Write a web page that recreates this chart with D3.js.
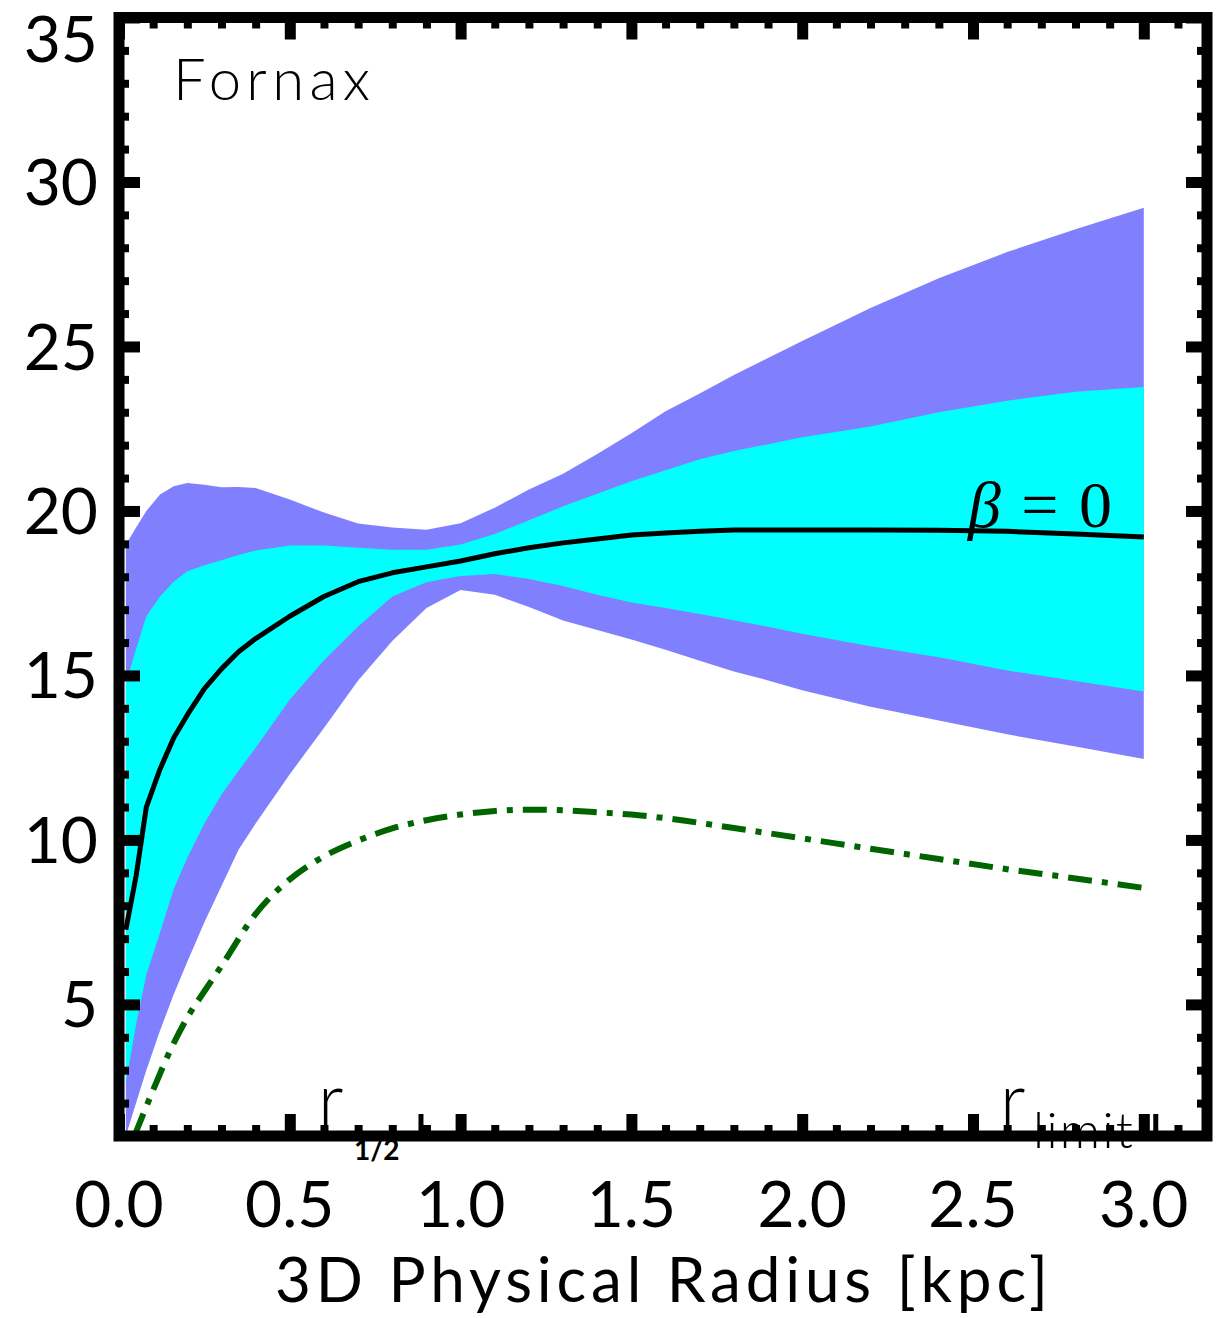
<!DOCTYPE html>
<html>
<head>
<meta charset="utf-8">
<script src="https://cdn.jsdelivr.net/npm/d3@7/dist/d3.min.js"></script>
<style>
  body { margin: 0; background: #fff; }
  text { font-family: Lato, "DejaVu Sans", sans-serif; }
</style>
</head>
<body>
<svg width="1229" height="1318"></svg>
<script>
// radius grid (kpc) shared by the bands and the median
var radius = [0.02, 0.05, 0.08, 0.12, 0.16, 0.2, 0.25, 0.3, 0.35, 0.4,
              0.5, 0.6, 0.7, 0.8, 0.9, 1.0, 1.1, 1.2, 1.3, 1.4, 1.5, 1.6, 1.7, 1.8, 1.9, 2.0,
              2.2, 2.4, 2.6, 2.8, 3.0];
// outer (purple) band
var outerHigh = [18.97, 19.5, 20.0, 20.5, 20.75, 20.85, 20.8, 20.72, 20.73, 20.7,
                 20.35, 19.95, 19.62, 19.5, 19.43, 19.63, 20.1, 20.65, 21.13, 21.73, 22.36, 23.03, 23.57, 24.13, 24.65, 25.17,
                 26.17, 27.07, 27.87, 28.56, 29.22];
var outerLow  = [1.0, 2.0, 3.0, 4.2, 5.3, 6.3, 7.5, 8.6, 9.7, 10.5,
                 12.0, 13.4, 14.85, 16.05, 17.05, 17.6, 17.45, 17.08, 16.67, 16.38, 16.09, 15.78, 15.45, 15.12, 14.85, 14.55,
                 14.05, 13.63, 13.21, 12.84, 12.46];
// inner (cyan) band
var innerHigh = [14.77, 15.8, 16.8, 17.4, 17.85, 18.17, 18.35, 18.5, 18.66, 18.8,
                 18.95, 18.95, 18.88, 18.82, 18.82, 18.98, 19.3, 19.72, 20.14, 20.52, 20.9, 21.24, 21.57, 21.82, 22.03, 22.24,
                 22.57, 23.0, 23.35, 23.62, 23.77];
var innerLow  = [2.6, 4.4, 5.9, 7.18, 8.5, 9.46, 10.5, 11.38, 12.1, 12.8,
                 14.27, 15.46, 16.49, 17.4, 17.83, 18.02, 18.08, 17.93, 17.72, 17.45, 17.22, 17.05, 16.87, 16.68, 16.48, 16.27,
                 15.89, 15.55, 15.15, 14.83, 14.51];
// beta = 0 median
var median    = [7.27, 8.9, 11.0, 12.15, 13.1, 13.8, 14.6, 15.2, 15.72, 16.12,
                 16.8, 17.4, 17.85, 18.12, 18.3, 18.48, 18.7, 18.88, 19.03, 19.15, 19.27, 19.33, 19.38, 19.42, 19.42, 19.42,
                 19.42, 19.41, 19.38, 19.3, 19.21];
// dash-dot curve
var greenR = [0.045, 0.1, 0.15, 0.2, 0.25, 0.3, 0.4, 0.5, 0.6, 0.7, 0.8, 0.9, 1.0, 1.1, 1.2, 1.3, 1.4, 1.5, 1.6,
              1.8, 2.0, 2.2, 2.4, 2.6, 2.8, 3.0];
var greenV = [1.0, 2.4, 3.6, 4.6, 5.4, 6.17, 7.75, 8.8, 9.5, 9.98, 10.35, 10.6, 10.77, 10.88, 10.92, 10.9, 10.84, 10.77, 10.66,
              10.36, 10.05, 9.73, 9.42, 9.11, 8.83, 8.54];

var xTicks = [0, 0.5, 1.0, 1.5, 2.0, 2.5, 3.0];
var yTicks = [5, 10, 15, 20, 25, 30, 35];
var rHalf = 0.884, rLimit = 3.035;

(function() {
var svg = d3.select("svg");
var pL = 119, pR = 1207, pT = 17.5, pB = 1136;

var x = d3.scaleLinear().domain([0, 3.185]).range([pL, pR]);
var y = d3.scaleLinear().domain([1, 35]).range([pB, pT]);

svg.append("clipPath").attr("id", "plotclip")
  .append("rect").attr("x", pL).attr("y", pT)
  .attr("width", pR - pL).attr("height", pB - pT);

var plot = svg.append("g").attr("clip-path", "url(#plotclip)");

var rows = radius.map(function(r, i) {
  return {r: r, oh: outerHigh[i], ol: outerLow[i], ih: innerHigh[i], il: innerLow[i], m: median[i]};
});

// bands
plot.append("path").datum(rows)
  .attr("fill", "#8080ff")
  .attr("d", d3.area().x(function(d) { return x(d.r); })
    .y0(function(d) { return y(d.ol); }).y1(function(d) { return y(d.oh); }));

plot.append("path").datum(rows)
  .attr("fill", "#00ffff")
  .attr("d", d3.area().x(function(d) { return x(d.r); })
    .y0(function(d) { return y(d.il); }).y1(function(d) { return y(d.ih); }));

// green dash-dot
plot.append("path").datum(greenR.map(function(r, i) { return [r, greenV[i]]; }))
  .attr("fill", "none")
  .attr("stroke", "#006400")
  .attr("stroke-width", 6)
  .attr("stroke-dasharray", "24,10,6,10")
  .attr("d", d3.line().curve(d3.curveMonotoneX)
    .x(function(d) { return x(d[0]); }).y(function(d) { return y(d[1]); }));

// median line
plot.append("path").datum(rows)
  .attr("fill", "none")
  .attr("stroke", "#000")
  .attr("stroke-width", 5)
  .attr("stroke-linejoin", "round")
  .attr("d", d3.line().x(function(d) { return x(d.r); }).y(function(d) { return y(d.m); }));

// ticks on all four sides
var xMinor = d3.range(1, 32).map(function(i) { return i / 10; }).filter(function(v) { return Math.round(v * 10) % 5 != 0; });
var yMinor = d3.range(2, 35).filter(function(v) { return v % 5 != 0; });

function tickAxis(gen, scale, vals, len, w, tr) {
  var a = svg.append("g").attr("transform", tr)
    .call(gen(scale).tickValues(vals).tickSize(-len).tickFormat(""));
  a.select(".domain").remove();
  a.selectAll(".tick line").attr("stroke", "#000").attr("stroke-width", w);
}
tickAxis(d3.axisBottom, x, xMinor, 11, 8, "translate(0," + pB + ")");
tickAxis(d3.axisBottom, x, xTicks, 22, 11, "translate(0," + pB + ")");
tickAxis(d3.axisTop, x, xMinor, 11, 8, "translate(0," + pT + ")");
tickAxis(d3.axisTop, x, xTicks, 22, 11, "translate(0," + pT + ")");
tickAxis(d3.axisLeft, y, yMinor, 10, 8, "translate(" + pL + ",0)");
tickAxis(d3.axisLeft, y, yTicks, 21, 11, "translate(" + pL + ",0)");
tickAxis(d3.axisRight, y, yMinor, 10, 8, "translate(" + pR + ",0)");
tickAxis(d3.axisRight, y, yTicks, 21, 11, "translate(" + pR + ",0)");

// r_1/2 and r_limit markers
svg.selectAll("line.marker").data([rHalf, rLimit]).enter().append("line")
  .attr("x1", function(d) { return x(d); }).attr("x2", function(d) { return x(d); })
  .attr("y1", pB).attr("y2", pB - 22)
  .attr("stroke", "#000").attr("stroke-width", 5);

// frame
svg.append("rect")
  .attr("x", pL).attr("y", pT)
  .attr("width", pR - pL).attr("height", pB - pT)
  .attr("fill", "none").attr("stroke", "#000").attr("stroke-width", 11);

// tick labels
svg.selectAll("text.xl").data(xTicks).enter().append("text")
  .attr("x", function(d) { return x(d); })
  .attr("y", 1227)
  .attr("text-anchor", "middle")
  .attr("font-size", 64)
  .text(function(d) { return d.toFixed(1); });

svg.selectAll("text.yl").data(yTicks).enter().append("text")
  .attr("x", 98)
  .attr("y", function(d) { return Math.max(y(d), 38.5); })
  .attr("dy", "0.36em")
  .attr("text-anchor", "end")
  .attr("font-size", 64)
  .text(function(d) { return d; });

// axis title
svg.append("text")
  .attr("x", 275).attr("y", 1302)
  .attr("font-size", 62)
  .attr("textLength", 773).attr("lengthAdjust", "spacing")
  .text("3D Physical Radius [kpc]");

// galaxy name
svg.append("text")
  .attr("x", 173).attr("y", 100)
  .attr("font-size", 58).attr("font-weight", 300)
  .attr("textLength", 197).attr("lengthAdjust", "spacing")
  .text("Fornax");

// beta label
var beta = svg.append("text")
  .attr("x", 968).attr("y", 527)
  .attr("font-size", 66)
  .attr("textLength", 144).attr("lengthAdjust", "spacing")
  .style("font-family", "'Liberation Serif', 'DejaVu Serif', serif");
beta.append("tspan").attr("font-style", "italic").text("β");
beta.append("tspan").text(" = 0");

// radius markers text
svg.append("text").attr("x", 318).attr("y", 1125).attr("font-size", 72).attr("font-weight", 300).text("r");
svg.append("text").attr("x", 354).attr("y", 1160).attr("font-size", 28).attr("font-weight", "bold").text("1/2");

svg.append("text").attr("x", 1000).attr("y", 1125).attr("font-size", 72).attr("font-weight", 300).text("r");
svg.append("text").attr("x", 1033).attr("y", 1148).attr("font-size", 50).attr("font-weight", 300)
  .attr("textLength", 100).attr("lengthAdjust", "spacing").text("limit");
})();
</script>
</body>
</html>
